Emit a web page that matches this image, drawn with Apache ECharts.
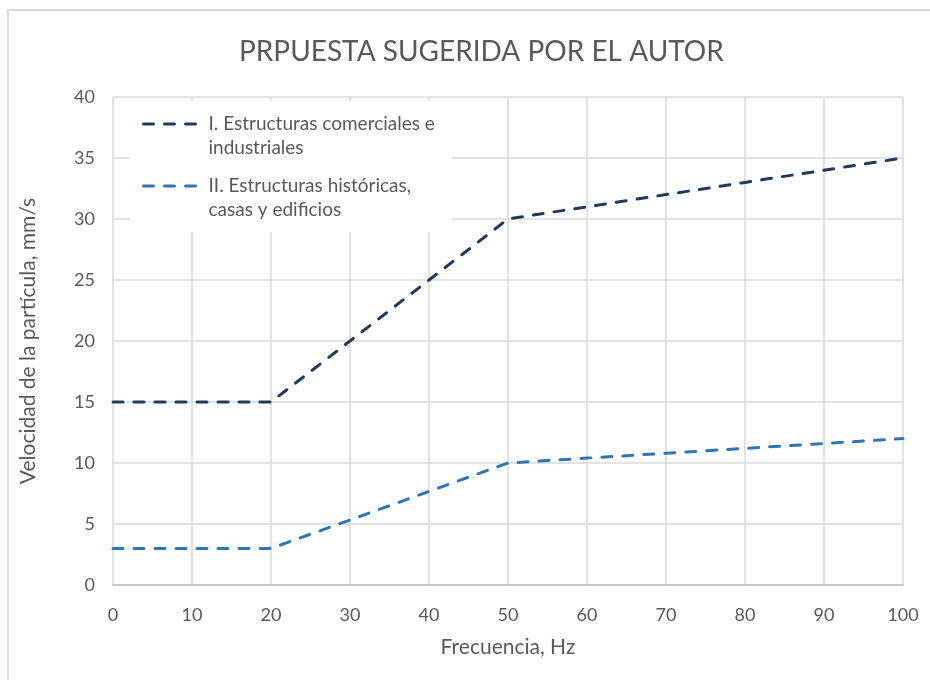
<!DOCTYPE html>
<html>
<head>
<meta charset="utf-8">
<script src="https://cdn.jsdelivr.net/npm/echarts@6/dist/echarts.min.js"></script>
<style>
  html, body { margin: 0; padding: 0; background: #fff; }
  #chart { width: 930px; height: 680px; }
</style>
</head>
<body>
<div id="chart"></div>
<script>
// Frecuencia (Hz) y velocidad de partícula (mm/s)
const frecuencias = [0, 10, 20, 30, 40, 50, 60, 70, 80, 90, 100];
const comerciales = [15, 15, 15, 20, 25, 30, 31, 32, 33, 34, 35];
const historicas = [3, 3, 3, 5.33, 7.67, 10, 10.4, 10.8, 11.2, 11.6, 12];
const nombres = ['I. Estructuras comerciales e\nindustriales', 'II. Estructuras históricas,\ncasas y edificios'];

const chartDom = document.getElementById('chart'),
    chart = echarts.init(chartDom);

const fontName = 'Lato';
const gridColor = '#d9d9d9';
const textColor = '#595959';
const dash = [10, 11];

let option = {
    animation: false,
    textStyle: { fontFamily: fontName },
    graphic: [
        {
            // outer chart border
            type: 'rect',
            shape: { x: 8, y: 10, width: 1000, height: 1000 },
            style: { fill: 'none', stroke: gridColor, lineWidth: 2 },
            silent: true
        },
        {
            // white box behind the legend (hides the grid)
            type: 'rect',
            z: 1,
            shape: { x: 130, y: 101, width: 322, height: 131 },
            style: { fill: '#fff' },
            silent: true
        }
    ],
    title: {
        text: 'PRPUESTA SUGERIDA POR EL AUTOR',
        left: 234,
        top: 33,
        textStyle: { fontFamily: fontName, fontSize: 28, fontWeight: 'normal', color: textColor }
    },
    legend: {
        left: 132,
        top: 88,
        orient: 'vertical',
        padding: [0, 10, 0, 10],
        itemGap: -10,
        itemWidth: 60,
        itemHeight: 14,
        itemStyle: { opacity: 0 },
        lineStyle: { width: 3 },
        textStyle: {
            fontFamily: fontName,
            fontSize: 19,
            color: textColor,
            lineHeight: 24
        },
        // blank first line so the icon sits next to the first text line
        formatter: function (name) {
            return ' \n' + name;
        },
        data: nombres
    },
    grid: {
        left: 113,
        right: 27,
        top: 97,
        bottom: 95
    },
    xAxis: {
        type: 'value',
        min: 0,
        max: 100,
        interval: 10,
        name: 'Frecuencia, Hz',
        nameLocation: 'middle',
        nameGap: 52,
        nameTextStyle: { fontSize: 21, color: textColor },
        axisLine: { lineStyle: { color: '#bfbfbf', width: 1.5 } },
        axisTick: { show: false },
        axisLabel: { fontSize: 18, color: textColor, margin: 21 },
        splitLine: { show: true, lineStyle: { color: gridColor, width: 1.5 } }
    },
    yAxis: {
        type: 'value',
        min: 0,
        max: 40,
        interval: 5,
        name: 'Velocidad de la partícula, mm/s',
        nameLocation: 'middle',
        nameGap: 74,
        nameTextStyle: { fontSize: 21, color: textColor },
        axisLine: { show: false },
        axisTick: { show: false },
        axisLabel: { fontSize: 18, color: textColor, margin: 18 },
        splitLine: { lineStyle: { color: gridColor, width: 1.5 } }
    },
    series: [
        {
            name: nombres[0],
            type: 'line',
            symbol: 'none',
            z: 3,
            lineStyle: { color: '#1f3a5c', width: 3, type: dash, cap: 'round' },
            itemStyle: { color: '#1f3a5c' },
            data: frecuencias.map((f, i) => [f, comerciales[i]])
        },
        {
            name: nombres[1],
            type: 'line',
            symbol: 'none',
            z: 3,
            lineStyle: { color: '#2e75b6', width: 3, type: dash, cap: 'round' },
            itemStyle: { color: '#2e75b6' },
            data: frecuencias.map((f, i) => [f, historicas[i]])
        }
    ]
};

option && chart.setOption(option);
</script>
</body>
</html>
